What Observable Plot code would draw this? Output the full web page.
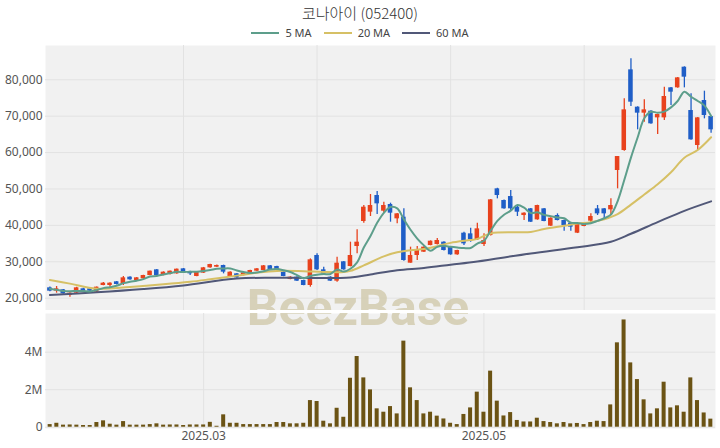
<!DOCTYPE html>
<html><head><meta charset="utf-8">
<script src="https://cdn.jsdelivr.net/npm/d3@7"></script>
<script src="https://cdn.jsdelivr.net/npm/@observablehq/plot@0.6"></script>
<style>
body{margin:0;background:#fff;}
#wrap{position:relative;width:720px;height:448px;overflow:hidden;font-family:"Noto Sans","Noto Sans CJK KR",sans-serif;}
#title{position:absolute;left:0;top:2px;width:720px;text-align:center;font-family:"Noto Sans CJK KR","Noto Sans",sans-serif;font-weight:300;font-size:15px;color:#333;}
#legend{position:absolute;left:0;top:25px;width:720px;display:flex;justify-content:center;align-items:center;font-size:11px;color:#444;font-family:"Noto Sans",sans-serif;}
#legend .it{display:flex;align-items:center;margin:0 6px;}
#legend .sw{display:inline-block;width:28px;height:2px;margin-right:6px;}
.pl{position:absolute;left:0;}
#wm{position:absolute;left:0;width:716px;text-align:center;top:283px;line-height:1;font-family:Roboto,"Open Sans",sans-serif;font-weight:700;font-size:50px;color:#d3ccb0;opacity:0.85;pointer-events:none;}
#sep{position:absolute;left:45px;width:670px;top:310px;height:3px;background:#fff;}
</style>
</head><body>
<div id="wrap">
  <div id="title">코나아이 (052400)</div>
  <div id="legend"></div>
  <div id="up" class="pl" style="top:40px"></div>
  <div id="lo" class="pl" style="top:312px"></div>
  <div id="wm">BeezBase</div>
  <div id="sep"></div>
</div>
<script>
const dates = ["2025-01-23","2025-01-24","2025-01-31","2025-02-03","2025-02-04","2025-02-05","2025-02-06","2025-02-07","2025-02-10","2025-02-11",
"2025-02-12","2025-02-13","2025-02-14","2025-02-17","2025-02-18","2025-02-19","2025-02-20","2025-02-21","2025-02-24","2025-02-25",
"2025-02-26","2025-02-27","2025-02-28","2025-03-04","2025-03-05","2025-03-06","2025-03-07","2025-03-10","2025-03-11","2025-03-12",
"2025-03-13","2025-03-14","2025-03-17","2025-03-18","2025-03-19","2025-03-20","2025-03-21","2025-03-24","2025-03-25","2025-03-26",
"2025-03-27","2025-03-28","2025-03-31","2025-04-01","2025-04-02","2025-04-03","2025-04-04","2025-04-07","2025-04-08","2025-04-09",
"2025-04-10","2025-04-11","2025-04-14","2025-04-15","2025-04-16","2025-04-17","2025-04-18","2025-04-21","2025-04-22","2025-04-23",
"2025-04-24","2025-04-25","2025-04-28","2025-04-29","2025-04-30","2025-05-02","2025-05-07","2025-05-08","2025-05-09","2025-05-12",
"2025-05-13","2025-05-14","2025-05-15","2025-05-16","2025-05-19","2025-05-20","2025-05-21","2025-05-22","2025-05-23","2025-05-26",
"2025-05-27","2025-05-28","2025-05-29","2025-05-30","2025-06-02","2025-06-04","2025-06-05","2025-06-09","2025-06-10","2025-06-11",
"2025-06-12","2025-06-13","2025-06-16","2025-06-17","2025-06-18","2025-06-19","2025-06-20","2025-06-23","2025-06-24","2025-06-25"];

const open = [22850,21930,22300,20740,21380,22570,22570,21650,23490,23490,
24500,23940,25780,24860,25320,26230,27790,26230,26510,26690,
28060,27330,25960,26880,28340,28520,28980,25960,26690,26230,
26870,27420,27610,28890,28700,27150,25130,25780,24860,23490,
31730,27790,25780,24680,29990,28700,34200,41070,43630,48210,
43900,45740,41800,42260,29620,31730,32640,34470,34750,35390,
34020,31910,37860,37680,36030,34750,37220,50040,46840,47930,
45000,42710,44550,41520,44550,39790,42720,41340,40610,37860,
39700,41160,44550,44550,44270,55080,60570,82730,72480,70830,
71380,69540,69540,77790,77790,83460,71560,61950,74310,69910];
const high = [23100,23210,22400,21500,23000,22700,22650,23100,24300,24250,
24600,25960,25900,25700,26300,27500,27900,27250,27500,28050,
28150,27420,27250,28450,29350,29100,29080,27250,26800,27050,
27700,28150,28980,29000,28800,27250,25900,25880,24950,30810,
32180,28520,25880,31270,30100,35390,38780,45460,48480,49310,
46380,46100,43250,44550,34020,34200,34100,35750,36400,35500,
34100,33200,38140,39240,40610,37680,47100,50200,46950,49580,
45460,43450,44650,45550,44650,42080,43170,41450,40700,40530,
40700,43170,45460,44650,47290,58920,74770,85750,72580,74490,
71500,70560,77970,77900,80630,83560,76140,69640,76870,70010];
const low = [21800,21380,21100,20280,21300,21850,21850,21550,23400,23030,
23650,23490,24950,24800,25250,26150,26150,26150,26400,26600,
27050,26230,25900,26800,28250,28450,26690,25900,25500,26150,
26800,27350,27550,27700,27500,25880,25050,24600,23400,23030,
27610,26600,24600,24400,27700,28600,32180,40610,42440,43000,
43360,40880,40430,30170,29620,30350,32550,34400,34600,33000,
31800,31800,34470,35390,35900,34200,37100,47290,44450,44090,
42440,41340,40780,41420,40970,39700,41240,38410,38410,37760,
39600,40610,42710,41340,42710,50040,60390,72660,66250,68360,
67800,64970,68810,72930,77690,77790,63400,60570,69270,65330];
const close = [21930,22570,21200,21380,22850,21930,21930,23030,24130,24130,
23760,25590,25040,25590,26230,27420,26230,27150,27420,27970,
27150,26690,27150,28340,29250,28980,27150,27150,25590,26960,
27610,28060,28890,27790,27610,25960,25770,24680,23490,30540,
27790,26690,24680,29620,27790,31730,35390,45000,45460,45920,
45460,43360,43170,30350,31730,33280,34020,35660,35850,33100,
31910,33100,34930,36030,39050,35850,47020,48210,44550,44550,
43630,43360,40880,45460,41070,41980,41340,39970,39510,40430,
40610,42440,43170,43170,45460,58920,71740,73850,70830,71740,
67900,70460,75410,76600,80530,80720,63500,69540,70190,66250];
const volume = [140000,210000,110000,120000,110000,90000,90000,250000,340000,160000,
110000,300000,110000,110000,110000,140000,180000,110000,120000,120000,
90000,120000,120000,120000,260000,50000,660000,210000,210000,140000,
140000,140000,140000,140000,250000,250000,180000,180000,210000,1420000,
1370000,320000,180000,1010000,530000,2610000,3770000,2630000,1990000,980000,
800000,1100000,710000,4590000,2100000,1420000,710000,800000,590000,440000,
210000,140000,680000,1030000,1870000,800000,2990000,1390000,600000,780000,
360000,280000,280000,480000,300000,250000,180000,250000,180000,200000,
140000,250000,320000,300000,1190000,4500000,5720000,3430000,2540000,1460000,
710000,980000,2400000,1030000,1140000,800000,2630000,1420000,760000,430000];

const ma5 = [22570,22300,22000,21900,21990,21990,21860,22220,22770,23030,
23400,24130,24530,24820,25240,25970,26100,26520,26890,27240,
27180,27280,27280,27460,27720,28080,28170,28170,27620,27170,
26890,27070,27420,27860,27990,27660,27200,26360,25500,26090,
26450,26640,26640,27860,27310,28100,29840,33910,37070,40700,
43450,45040,44670,41650,38810,36380,34510,33010,34110,34380,
34110,33920,33780,33810,35000,35790,38580,41230,42940,44040,
45590,44860,43390,43580,42880,42550,42150,41960,40770,40650,
40370,40590,41230,41960,42970,46630,52490,58630,64160,69420,
71210,70960,71270,72420,74180,76740,75350,74180,72900,70040];

const ma20Idx = [0,3,7,12,17,21,24,28,31,34,38,41,44,45,47,50,52,54,56,58,60,63,64,66,70,72,74,77,79,81,83,85,87,89,91,93,95,97,99];
const ma20Val = [25000,24000,22600,23100,23800,24500,25200,26200,27000,27500,27400,27200,27200,27500,29000,31500,32600,33200,33500,34300,35200,36000,36300,37800,38100,38200,39000,39900,40500,40900,41700,43100,45700,48500,51300,54600,58600,60700,64200];
const ma60Idx = [0,7,14,20,28,35,45,48,52,56,60,64,72,79,84,87,91,95,99];
const ma60Val = [20900,21600,22500,23500,25400,25600,25700,26500,27700,28300,29200,30100,32300,34000,35500,37700,40900,44000,46600];

const priceTicks = [20000,30000,40000,50000,60000,70000,80000];
const volTicks = [0,2000000,4000000];
const monthTickDates = ["2025-03-04","2025-05-02"];
const priceGridDates = ["2025-02-26","2025-03-27","2025-04-24","2025-05-27"];
const maNames = ["5 MA","20 MA","60 MA"];

const C = {up:"#e8421d", down:"#1f5ec7", vol:"#6b5314", ma5:"#5d9e8b", ma20:"#d6c065", ma60:"#515878", bg:"#f1f1f1", grid:"#e2e2e2"};
const maColors = [C.ma5, C.ma20, C.ma60];

const candles = dates.map((d,i)=>({date:d, open:open[i], high:high[i], low:low[i], close:close[i], volume:volume[i]}));
const ups = candles.filter(d=>d.close>=d.open), downs = candles.filter(d=>d.close<d.open);
const ma5Data = dates.map((d,i)=>({date:d, v:ma5[i]}));
const ma20Data = ma20Idx.map((k,i)=>({date:dates[k], v:ma20Val[i]}));
const ma60Data = ma60Idx.map((k,i)=>({date:dates[k], v:ma60Val[i]}));

const leg = document.getElementById("legend");
maNames.forEach((n,i)=>{
  const it=document.createElement("div"); it.className="it";
  it.innerHTML=`<span class="sw" style="background:${maColors[i]}"></span><span>${n}</span>`;
  leg.appendChild(it);
});

const axisStyle = {fontSize:"12px", fontFamily:"Noto Sans, sans-serif", color:"#555", background:"transparent", overflow:"visible"};

const upper = Plot.plot({
  width:720, height:272, marginLeft:45, marginRight:5, marginTop:5, marginBottom:2,
  style: axisStyle,
  x:{type:"band", domain:dates, padding:0.32, axis:null},
  y:{domain:[16620,89420], ticks:priceTicks, tickFormat:d3.format(","), tickSize:0, tickPadding:3, label:null},
  marks:[
    Plot.frame({fill:C.bg, stroke:null}),
    Plot.gridY(priceTicks, {stroke:C.grid, strokeOpacity:1}),
    Plot.ruleX(priceGridDates, {stroke:C.grid, strokeOpacity:1}),
    Plot.ruleX(ups, {x:"date", y1:"low", y2:"high", stroke:C.up, strokeWidth:1.3}),
    Plot.ruleX(downs, {x:"date", y1:"low", y2:"high", stroke:C.down, strokeWidth:1.3}),
    Plot.barY(ups, {x:"date", y1:"open", y2:"close", fill:C.up}),
    Plot.barY(downs, {x:"date", y1:"open", y2:"close", fill:C.down}),
    Plot.line(ma60Data, {x:"date", y:"v", stroke:C.ma60, strokeWidth:2, curve:"catmull-rom"}),
    Plot.line(ma20Data, {x:"date", y:"v", stroke:C.ma20, strokeWidth:2, curve:"catmull-rom"}),
    Plot.line(ma5Data, {x:"date", y:"v", stroke:C.ma5, strokeWidth:2, curve:"catmull-rom"})
  ]
});
document.getElementById("up").appendChild(upper);

const lower = Plot.plot({
  width:720, height:136, marginLeft:45, marginRight:5, marginTop:1, marginBottom:20,
  style: axisStyle,
  x:{type:"band", domain:dates, padding:0.4, ticks:monthTickDates, tickFormat:d=>d.slice(0,7).replace("-","."), tickSize:0, tickPadding:3, label:null},
  y:{domain:[-69000,6064000], ticks:volTicks, tickFormat:d=>d===0?"0":(d/1e6)+"M", tickSize:0, tickPadding:3, label:null},
  marks:[
    Plot.frame({fill:C.bg, stroke:null}),
    Plot.gridY(volTicks, {stroke:C.grid, strokeOpacity:1}),
    Plot.ruleX(monthTickDates, {stroke:C.grid, strokeOpacity:1}),
    Plot.barY(candles, {x:"date", y1:0, y2:"volume", fill:C.vol})
  ]
});
document.getElementById("lo").appendChild(lower);
</script>
</body></html>
